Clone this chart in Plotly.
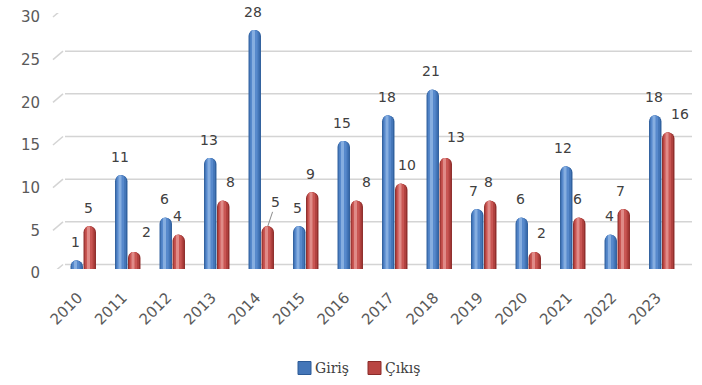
import plotly.graph_objects as go

# Yearly entries (Giriş) and exits (Çıkış)
years = [str(y) for y in range(2010, 2024)]
giris = [1, 11, 6, 13, 28, 5, 15, 18, 21, 7, 6, 12, 4, 18]
cikis = [5, 2, 4, 8, 5, 9, 8, 10, 13, 8, 2, 6, 7, 16]
y_ticks = [0, 5, 10, 15, 20, 25, 30]
series_names = ["Giriş", "Çıkış"]

# --- styling -------------------------------------------------------------
BAR_W = 0.28            # bar width in category units
CENTERS = {"Giriş": -0.146, "Çıkış": 0.146}
# cylinder shading: (width fraction, centre shift fraction, colour)
SHADES = {
    "Giriş": [(1.00, 0.00, "#30609E"), (0.82, -0.02, "#4476B8"),
              (0.58, -0.06, "#5789CC"), (0.24, -0.10, "#86AEE0")],
    "Çıkış": [(1.00, 0.00, "#8E2D2B"), (0.82, -0.02, "#B0413E"),
              (0.58, -0.06, "#C95653"), (0.24, -0.10, "#E08B88")],
}
LEGEND_COLOR = {"Giriş": "#4476B8", "Çıkış": "#B94643"}
LEGEND_EDGE = {"Giriş": "#2C5A96", "Çıkış": "#8A2B29"}

LABEL_FONT = dict(family="DejaVu Sans", size=14, color="#404040")
AXIS_FONT = dict(family="DejaVu Sans", size=15, color="#5A5A5A")
LEGEND_FONT = dict(family="DejaVu Serif", size=14, color="#404040")

# label nudges in pixels: (dx from bar centre, rise above bar top)
DEFAULT_DX, DEFAULT_RISE = -1.5, 18.5
NUDGE = {
    ("Çıkış", "2011"): (12, 19.5),
    ("Çıkış", "2013"): (7, 18.5),
    ("Çıkış", "2016"): (9.5, 18.5),
    ("Çıkış", "2017"): (6, 18.5),
    ("Çıkış", "2018"): (10.5, 21),
    ("Çıkış", "2020"): (6.5, 18.5),
    ("Çıkış", "2023"): (12, 18.5),
    ("Çıkış", "2022"): (-3.5, 18.5),
    ("Giriş", "2019"): (-4, 18.5),
    ("Giriş", "2021"): (-3, 18.5),
}
LEADER = {("Çıkış", "2014"): (8, -24)}

ML, MR, MT, MB = 61, 18, 13, 116
PLOT_W = 702 - ML - MR
PLOT_H = 385 - MT - MB
PX_PER_CAT = PLOT_W / len(years)

fig = go.Figure()

series = [("Giriş", giris), ("Çıkış", cikis)]
for name, vals in series:
    c = CENTERS[name]
    for frac, shift, color in SHADES[name]:
        w = BAR_W * frac
        centre = c + shift * BAR_W
        fig.add_trace(go.Bar(
            x=years, y=vals, name=name,
            width=w, offset=centre - w / 2,
            marker=dict(color=color, cornerradius="50%", line=dict(width=0)),
            showlegend=False, hoverinfo="skip",
        ))

# value labels
annotations = []
for name, vals in series:
    cx = CENTERS[name] * PX_PER_CAT
    for idx, (yr, v) in enumerate(zip(years, vals)):
        if (name, yr) in LEADER:
            ax, ay = LEADER[(name, yr)]
            annotations.append(dict(
                x=idx, y=v, xref="x", yref="y", text=str(v),
                xshift=cx, showarrow=True, arrowhead=0, arrowwidth=1,
                arrowcolor="#8C8C8C", ax=ax, ay=ay, font=LABEL_FONT,
            ))
            continue
        dx, rise = NUDGE.get((name, yr), (DEFAULT_DX, DEFAULT_RISE))
        annotations.append(dict(
            x=idx, y=v, xref="x", yref="y", text=str(v),
            xshift=cx + dx, yshift=rise, showarrow=False, font=LABEL_FONT,
        ))

# back-wall gridlines and side-wall edges
shapes = []
for t in y_ticks:
    shapes.append(dict(
        type="line", xref="paper", yref="y", ysizemode="pixel", yanchor=t,
        x0=4 / PLOT_W, x1=631 / PLOT_W, y0=4.5, y1=4.5,
        line=dict(color="#D4D4D4", width=1.5), layer="below",
    ))
    shapes.append(dict(
        type="line", xref="paper", yref="y", ysizemode="pixel", yanchor=t,
        x0=-8 / PLOT_W, x1=2 / PLOT_W, y0=-4, y1=4.5,
        line=dict(color="#D4D4D4", width=1.5), layer="below",
    ))


# legend: square swatch followed by its label
def px_x(px):
    return (px - ML) / PLOT_W


def px_y(py):
    return (385 - MB - py) / PLOT_H


legend_pos = {"Giriş": 298, "Çıkış": 368}
for name in series_names:
    x0 = legend_pos[name]
    shapes.append(dict(
        type="rect", xref="paper", yref="paper",
        x0=px_x(x0), x1=px_x(x0 + 13), y0=px_y(374.5), y1=px_y(361.5),
        fillcolor=LEGEND_COLOR[name], line=dict(color=LEGEND_EDGE[name], width=1),
    ))
    annotations.append(dict(
        x=px_x(x0 + 15), y=px_y(368), xref="paper", yref="paper",
        text=name, showarrow=False, xanchor="left", yanchor="middle",
        font=LEGEND_FONT,
    ))

fig.update_layout(
    width=702, height=385,
    margin=dict(l=ML, r=MR, t=MT, b=MB, autoexpand=False),
    paper_bgcolor="white", plot_bgcolor="white",
    barmode="overlay", showlegend=False,
    xaxis=dict(
        type="category", range=[-0.5, len(years) - 0.5],
        showgrid=False, showline=False, zeroline=False, ticks="",
        tickangle=-45, tickfont=AXIS_FONT, ticklabelstandoff=16,
        ticklabelshift=-5,
    ),
    yaxis=dict(
        range=[0, 30], tickvals=y_ticks, showgrid=False, zeroline=False,
        showline=False, ticks="", tickfont=AXIS_FONT,
        ticklabelshift=4, ticklabelstandoff=20,
    ),
    annotations=annotations,
    shapes=shapes,
)

fig.write_html("out.html")
